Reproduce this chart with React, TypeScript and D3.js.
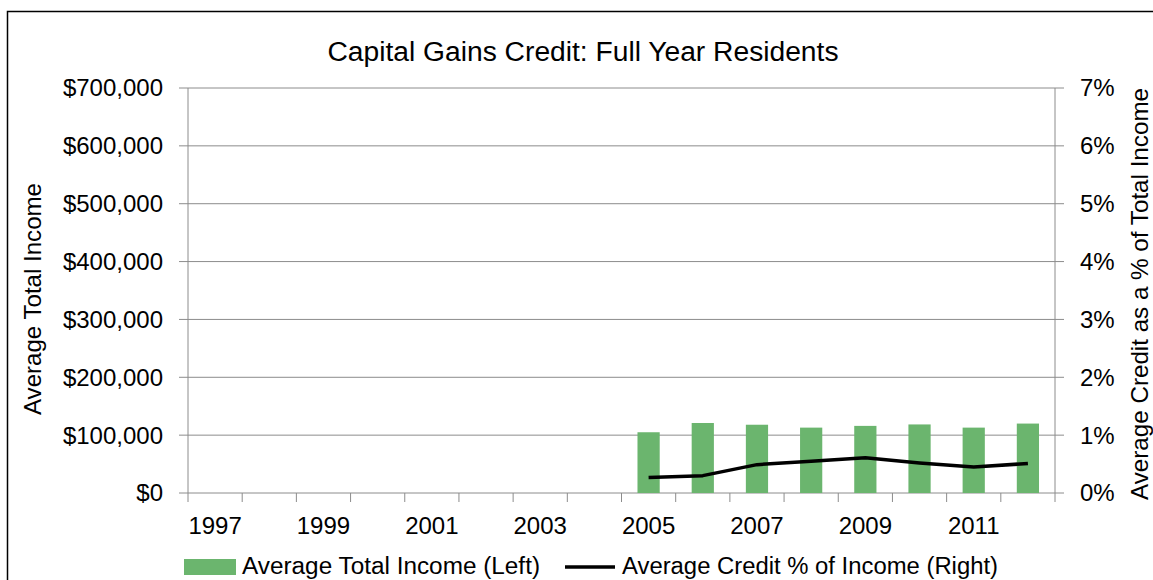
import React from "react";
import * as d3 from "d3";

const years = [1997, 1998, 1999, 2000, 2001, 2002, 2003, 2004, 2005, 2006, 2007, 2008, 2009, 2010, 2011, 2012];
const avgIncome: (number | null)[] = [null, null, null, null, null, null, null, null, 105000, 121000, 118000, 113000, 116000, 118500, 113000, 120000];
const creditPct: (number | null)[] = [null, null, null, null, null, null, null, null, 0.27, 0.30, 0.49, 0.55, 0.61, 0.52, 0.45, 0.51];
const leftTicks = [0, 100000, 200000, 300000, 400000, 500000, 600000, 700000];
const rightTicks = [0, 1, 2, 3, 4, 5, 6, 7];
const yearLabels = [1997, 1999, 2001, 2003, 2005, 2007, 2009, 2011];

const W = 1153, H = 580;
const FONT = "'Liberation Sans', Arial, sans-serif";

export default function App() {
  const left = 188, right = 1055, top = 88, bottom = 493;
  const x = d3.scaleBand<number>().domain(years).range([left, right]).paddingInner(0).paddingOuter(0);
  const yL = d3.scaleLinear().domain([0, 700000]).range([bottom, top]);
  const yR = d3.scaleLinear().domain([0, 7]).range([bottom, top]);
  const barW = x.bandwidth() * 0.41;
  const fmt = (v: number) => "$" + d3.format(",")(v);
  const grid = "#8c8c8c";

  const linePts = years
    .map((yr, i) => ({ yr, v: creditPct[i] }))
    .filter((d) => d.v !== null) as { yr: number; v: number }[];
  const line = d3
    .line<{ yr: number; v: number }>()
    .x((d) => (x(d.yr) as number) + x.bandwidth() / 2)
    .y((d) => yR(d.v));

  return (
    <svg width={W} height={H} style={{ position: "absolute", left: 0, top: 0, background: "#fff" }} fontFamily={FONT}>
      <rect x={7.5} y={11.5} width={W + 20} height={H + 20} fill="#fff" stroke="#000" strokeWidth={1.5} />
      <text x={583} y={61} textAnchor="middle" fontSize={27} fill="#000" textLength={511} lengthAdjust="spacingAndGlyphs">
        Capital Gains Credit: Full Year Residents
      </text>
      {leftTicks.map((t) => (
        <line key={"g" + t} x1={left - 9} x2={right + 9} y1={yL(t)} y2={yL(t)} stroke={grid} strokeWidth={1} />
      ))}
      <line x1={left} x2={left} y1={top} y2={bottom} stroke={grid} />
      <line x1={right} x2={right} y1={top} y2={bottom} stroke={grid} />
      {leftTicks.map((t) => (
        <text key={"l" + t} x={163} y={yL(t)} dy="0.35em" textAnchor="end" fontSize={24} fill="#000">
          {fmt(t)}
        </text>
      ))}
      {rightTicks.map((t) => (
        <text key={"r" + t} x={1080} y={yR(t)} dy="0.35em" textAnchor="start" fontSize={24} fill="#000">
          {t + "%"}
        </text>
      ))}
      {years.concat([years[years.length - 1] + 1]).map((yr, i) => {
        const xx = left + i * x.bandwidth();
        return <line key={"xt" + yr} x1={xx} x2={xx} y1={bottom} y2={bottom + 9} stroke={grid} />;
      })}
      {yearLabels.map((yr) => (
        <text key={"xl" + yr} x={(x(yr) as number) + x.bandwidth() / 2} y={534} textAnchor="middle" fontSize={24} fill="#000">
          {yr}
        </text>
      ))}
      {years.map((yr, i) =>
        avgIncome[i] === null ? null : (
          <rect
            key={"b" + yr}
            x={(x(yr) as number) + (x.bandwidth() - barW) / 2}
            y={yL(avgIncome[i] as number)}
            width={barW}
            height={bottom - yL(avgIncome[i] as number)}
            fill="#6bb56e"
          />
        )
      )}
      <path d={line(linePts) || ""} fill="none" stroke="#000" strokeWidth={3.5} strokeLinejoin="round" />
      <text transform={`translate(41,299) rotate(-90)`} textAnchor="middle" fontSize={24} fill="#000" textLength={232} lengthAdjust="spacingAndGlyphs">
        Average Total Income
      </text>
      <text transform={`translate(1148,294) rotate(-90)`} textAnchor="middle" fontSize={24} fill="#000" textLength={412} lengthAdjust="spacingAndGlyphs">
        Average Credit as a % of Total Income
      </text>
      <rect x={184} y={559} width={52} height={16} fill="#6bb56e" />
      <text x={242} y={574} fontSize={23} fill="#000" textLength={298} lengthAdjust="spacingAndGlyphs">Average Total Income (Left)</text>
      <line x1={565} x2={615} y1={567} y2={567} stroke="#000" strokeWidth={3.5} />
      <text x={622} y={574} fontSize={23} fill="#000" textLength={376} lengthAdjust="spacingAndGlyphs">Average Credit % of Income (Right)</text>
    </svg>
  );
}
